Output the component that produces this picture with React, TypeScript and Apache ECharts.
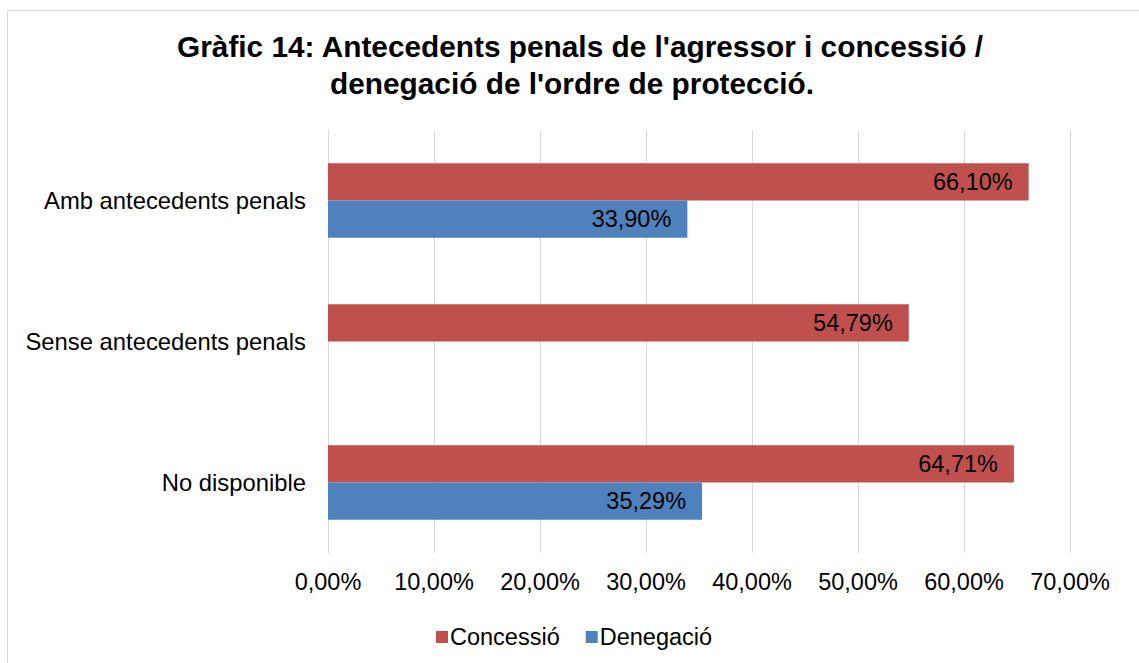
import React, { useEffect, useRef } from "react";
import * as echarts from "echarts";

const categories = ["Amb antecedents penals", "Sense antecedents penals", "No disponible"];
const concessio = [66.1, 54.79, 64.71];
const denegacio: (number | null)[] = [33.9, null, 35.29];
const seriesNames = ["Concessió", "Denegació"];
const titleLines = [
  "Gràfic 14: Antecedents penals de l'agressor i concessió /",
  "denegació de l'ordre de protecció.",
];

const FONT = "'Liberation Sans', Arial, sans-serif";
const fmt = (v: number) => v.toFixed(2).replace(".", ",") + "%";

export default function App() {
  const ref = useRef<HTMLDivElement>(null);
  useEffect(() => {
    if (!ref.current) return;
    const chart = echarts.init(ref.current, undefined, { renderer: "svg" });
    const labelCfg = {
      show: true,
      position: "insideRight" as const,
      distance: 16,
      color: "#000",
      fontSize: 23.5,
      fontFamily: FONT,
      formatter: (p: any) => fmt(p.value),
    };
    chart.setOption({
      animation: false,
      backgroundColor: "#fff",
      textStyle: { fontFamily: FONT },
      graphic: [
        {
          type: "rect",
          shape: { x: 7.5, y: 10.5, width: 1140, height: 670 },
          style: { fill: "none", stroke: "#D9D9D9", lineWidth: 1 },
          silent: true,
        },
        {
          type: "text",
          x: 580,
          y: 46.5,
          style: {
            text: titleLines[0],
            fontSize: 29.8,
            fontWeight: "bold",
            fontFamily: FONT,
            fill: "#000",
            textAlign: "center",
            textVerticalAlign: "middle",
          },
        },
        {
          type: "text",
          x: 572,
          y: 83,
          style: {
            text: titleLines[1],
            fontSize: 29.8,
            fontWeight: "bold",
            fontFamily: FONT,
            fill: "#000",
            textAlign: "center",
            textVerticalAlign: "middle",
          },
        },
      ],
      legend: {
        data: seriesNames,
        left: 431,
        top: 620,
        itemWidth: 12,
        itemHeight: 12,
        itemGap: 26,
        icon: "rect",
        textStyle: { fontSize: 23.5, color: "#000", fontFamily: FONT, padding: [0, 0, 0, -3] },
      },
      grid: { left: 328, right: 69, top: 130, bottom: 110, containLabel: false },
      xAxis: {
        type: "value",
        min: 0,
        max: 70,
        interval: 10,
        axisLine: { show: false },
        axisTick: { show: false },
        splitLine: { show: true, lineStyle: { color: "#D9D9D9", width: 1 } },
        axisLabel: {
          fontSize: 23.5,
          color: "#000",
          fontFamily: FONT,
          margin: 17,
          formatter: (v: number) => fmt(v),
        },
      },
      yAxis: {
        type: "category",
        data: categories,
        inverse: true,
        axisLine: { show: true, lineStyle: { color: "#D9D9D9", width: 1 } },
        axisTick: { show: false },
        axisLabel: { fontSize: 23.8, color: "#000", fontFamily: FONT, margin: 22 },
      },
      series: [
        {
          name: seriesNames[0],
          type: "bar",
          data: concessio,
          itemStyle: { color: "#C0504D" },
          barGap: "0%",
          barCategoryGap: "47%",
          label: labelCfg,
        },
        {
          name: seriesNames[1],
          type: "bar",
          data: denegacio,
          itemStyle: { color: "#4F81BD" },
          barGap: "0%",
          barCategoryGap: "47%",
          label: labelCfg,
        },
      ],
    });
    return () => chart.dispose();
  }, []);
  return (
    <div
      ref={ref}
      style={{ position: "absolute", left: 0, top: 0, width: 1139, height: 663, background: "#fff" }}
    />
  );
}
